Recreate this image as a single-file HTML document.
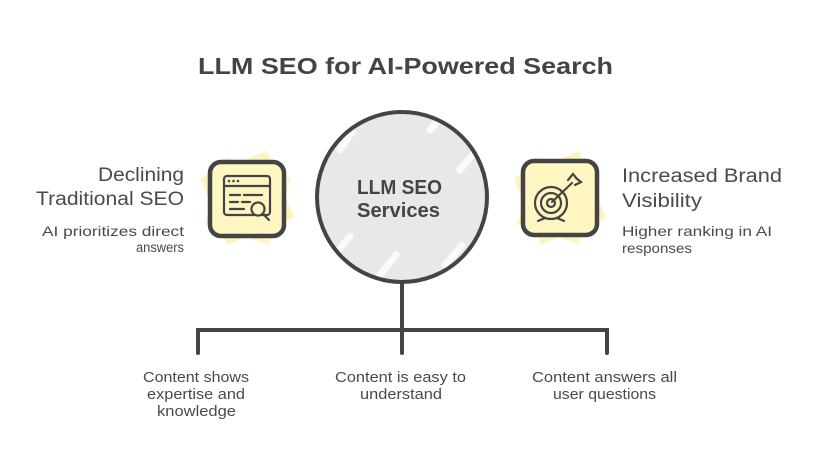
<!DOCTYPE html>
<html><head><meta charset="utf-8"><style>
html,body{margin:0;padding:0;background:#fff;}
svg{display:block;}
text{font-family:"Liberation Sans",sans-serif;fill:#4a4a4a;}
</style></head><body>
<svg width="816" height="468" viewBox="0 0 816 468" xmlns="http://www.w3.org/2000/svg">
<rect width="816" height="468" fill="#fff"/>
<!-- Title -->
<text x="198" y="74" font-size="23" font-weight="bold" textLength="415" lengthAdjust="spacingAndGlyphs" style="fill:#444">LLM SEO for AI-Powered Search</text>

<!-- connector -->
<g stroke="#444" stroke-width="4" stroke-linecap="round" fill="none">
<path d="M402 280 L402 353"/>
<path d="M198 353 L198 330 L607 330 L607 353"/>
</g>

<!-- circle -->
<circle cx="402" cy="197" r="85" fill="#e8e8e8"/>
<g stroke="#fff" stroke-width="7" opacity="0.8" stroke-linecap="round">
<path d="M340 150 L352 132"/>
<path d="M430 130 L445 112"/>
<path d="M460 170 L478 148"/>
<path d="M335 255 L350 236"/>
<path d="M380 275 L396 255"/>
<path d="M445 265 L462 245"/>
</g>
<circle cx="402" cy="197" r="85" fill="none" stroke="#444" stroke-width="4"/>
<text x="357" y="194" font-size="20" font-weight="bold" textLength="85" lengthAdjust="spacingAndGlyphs" style="fill:#444">LLM SEO</text>
<text x="357" y="217" font-size="20" font-weight="bold" textLength="83" lengthAdjust="spacingAndGlyphs" style="fill:#444">Services</text>

<!-- left icon -->
<g transform="rotate(-22 247 200)"><rect x="212" y="162" width="72" height="72" fill="#fdf3bd"/></g>
<g transform="rotate(18 247 200)"><rect x="214" y="166" width="68" height="70" fill="#fdf5c5"/></g>
<rect x="210" y="162" width="74" height="74" rx="11" fill="#fff6c2" stroke="#444" stroke-width="4.5"/>
<g stroke="#444" stroke-width="2.2" fill="none" stroke-linecap="round">
<rect x="224" y="176" width="46" height="39" rx="3"/>
<path d="M224 186 L270 186"/>
<path d="M230 195 L240 195 M244 195 L262 195"/>
<path d="M230 202 L238 202 M242 202 L250 202"/>
<path d="M230 209 L244 209"/>
<circle cx="258" cy="209" r="6.5" fill="#fff6c2"/>
<path d="M263 214 L269 220"/>
</g>
<g fill="#444"><circle cx="229" cy="181" r="1.3"/><circle cx="233.5" cy="181" r="1.3"/><circle cx="238" cy="181" r="1.3"/></g>

<!-- right icon -->
<g transform="rotate(-22 560 198)"><rect x="525" y="162" width="70" height="72" fill="#fdf3bd"/></g>
<g transform="rotate(18 560 198)"><rect x="527" y="166" width="66" height="70" fill="#fdf5c5"/></g>
<rect x="523" y="161" width="74" height="74" rx="11" fill="#fff6c2" stroke="#444" stroke-width="4.5"/>
<g stroke="#444" stroke-width="2.2" fill="none" stroke-linecap="round">
<circle cx="551" cy="203" r="16"/>
<circle cx="551" cy="203" r="10"/>
<circle cx="551" cy="203" r="4"/>
<path d="M545 218 L538 221 M557 218 L564 221"/>
<path d="M552 202 L572 183"/>
<path d="M568 180 L573 174 L577 179 M575 185 L581 182 L576 178"/>
</g>

<!-- side headings -->
<g font-size="19">
<text x="98" y="181" textLength="86" lengthAdjust="spacingAndGlyphs">Declining</text>
<text x="36" y="205" textLength="148" lengthAdjust="spacingAndGlyphs">Traditional SEO</text>
<text x="622" y="182" textLength="160" lengthAdjust="spacingAndGlyphs">Increased Brand</text>
<text x="622" y="207" textLength="80" lengthAdjust="spacingAndGlyphs">Visibility</text>
</g>
<g font-size="14">
<text x="42" y="236" textLength="142" lengthAdjust="spacingAndGlyphs">AI prioritizes direct</text>
<text x="136" y="252" font-size="13.5" textLength="48" lengthAdjust="spacingAndGlyphs">answers</text>
<text x="622" y="236" textLength="150" lengthAdjust="spacingAndGlyphs">Higher ranking in AI</text>
<text x="622" y="253" textLength="70" lengthAdjust="spacingAndGlyphs">responses</text>
</g>

<!-- bottom text -->
<g font-size="15">
<text x="143" y="382" textLength="106" lengthAdjust="spacingAndGlyphs">Content shows</text>
<text x="147" y="399" textLength="98" lengthAdjust="spacingAndGlyphs">expertise and</text>
<text x="157" y="416" textLength="79" lengthAdjust="spacingAndGlyphs">knowledge</text>
<text x="335" y="382" textLength="131" lengthAdjust="spacingAndGlyphs">Content is easy to</text>
<text x="360" y="399" textLength="82" lengthAdjust="spacingAndGlyphs">understand</text>
<text x="532" y="382" textLength="145" lengthAdjust="spacingAndGlyphs">Content answers all</text>
<text x="553" y="399" textLength="103" lengthAdjust="spacingAndGlyphs">user questions</text>
</g>
</svg>
</body></html>
